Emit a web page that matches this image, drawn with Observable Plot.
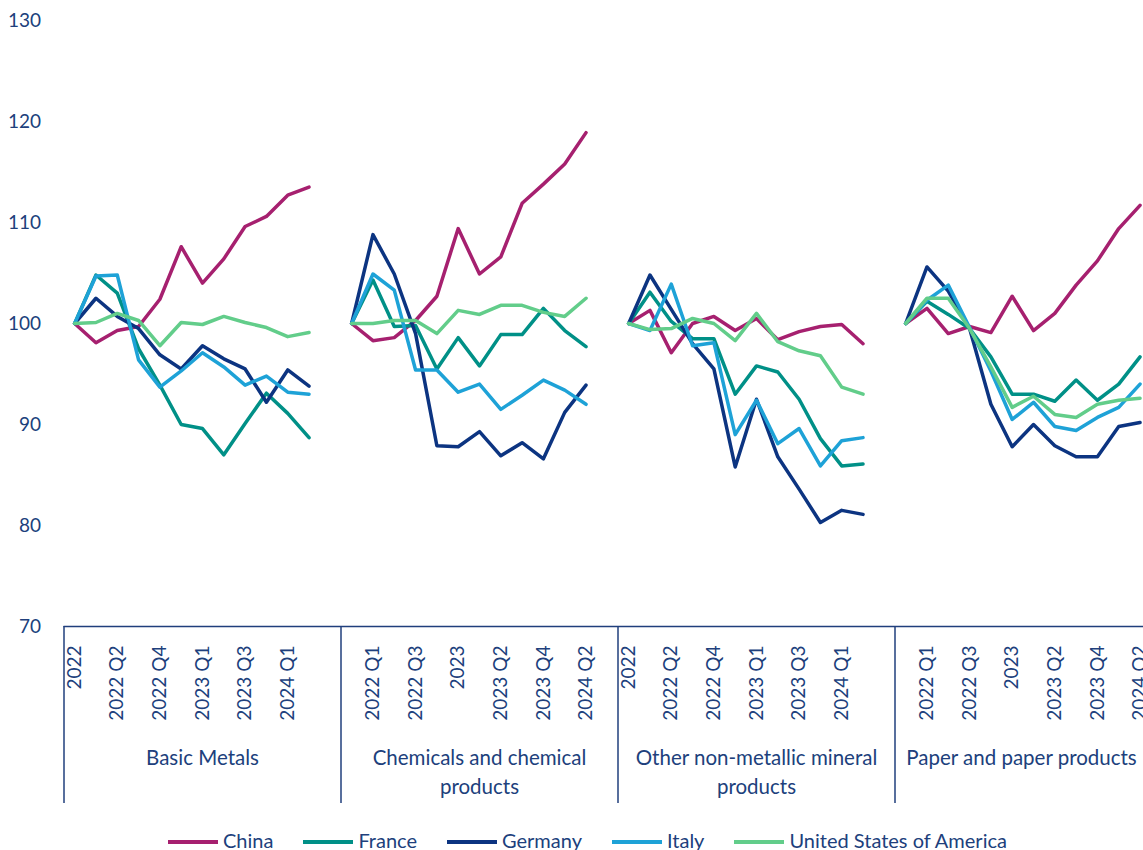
<!DOCTYPE html>
<html>
<head>
<meta charset="utf-8">
<script src="https://cdn.jsdelivr.net/npm/d3@7"></script>
<script src="https://cdn.jsdelivr.net/npm/@observablehq/plot@0.6"></script>
<style>
  html, body { margin: 0; padding: 0; background: #fff; overflow: hidden; }
  #chart svg { display: block; overflow: visible; max-width: none !important; width: 1180px !important; height: 825px !important; }
  #legend { display: flex; align-items: center; height: 30px; padding-left: 168px; gap: 30px;
            font: 20px Lato, sans-serif; color: #203F7C; white-space: nowrap; }
  #legend .sw { display: inline-block; width: 50px; height: 4px; vertical-align: middle; margin-right: 5px; position: relative; top: -1px; }
</style>
</head>
<body>
<div id="chart"></div>
<div id="legend"></div>
<script>
// ---- data ----
const quarters = ["2022","2022 Q1","2022 Q2","2022 Q3","2022 Q4","2023","2023 Q1","2023 Q2","2023 Q3","2023 Q4","2024 Q1","2024 Q2",""];
const groups = ["Basic Metals","Chemicals and chemical products","Other non-metallic mineral products","Paper and paper products"];
const countries = ["China","France","Germany","Italy","United States of America"];
const colors = ["#A6206F","#009087","#0C3481","#1EA2D7","#62CD8A"];
const yTicks = [70, 80, 90, 100, 110, 120, 130];

// values per group (Basic Metals, Chemicals, Other non-metallic, Paper), 2022 .. 2024 Q2
const china = [
  [100, 98.1, 99.3, 99.7, 102.4, 107.6, 104.0, 106.4, 109.6, 110.6, 112.7, 113.5],
  [100, 98.3, 98.6, 100.3, 102.7, 109.4, 104.9, 106.6, 111.9, 113.8, 115.8, 118.9],
  [100, 101.3, 97.1, 100.0, 100.7, 99.3, 100.5, 98.4, 99.2, 99.7, 99.9, 98.0],
  [100, 101.5, 99.0, 99.7, 99.1, 102.7, 99.3, 101.0, 103.8, 106.2, 109.4, 111.7]
];
const france = [
  [100, 104.8, 103.0, 97.5, 93.9, 90.0, 89.6, 87.0, 90.1, 93.1, 91.1, 88.7],
  [100, 104.3, 99.7, 99.8, 95.5, 98.6, 95.8, 98.9, 98.9, 101.5, 99.3, 97.7],
  [100, 103.1, 100.2, 98.5, 98.5, 93.0, 95.8, 95.2, 92.5, 88.6, 85.9, 86.1],
  [100, 102.2, 100.9, 99.5, 96.7, 93.0, 93.0, 92.3, 94.4, 92.4, 94.0, 96.7]
];
const germany = [
  [100, 102.5, 100.7, 99.5, 96.9, 95.5, 97.8, 96.5, 95.5, 92.2, 95.4, 93.8],
  [100, 108.8, 104.9, 99.0, 87.9, 87.8, 89.3, 86.9, 88.2, 86.6, 91.2, 93.9],
  [100, 104.8, 101.4, 98.0, 95.5, 85.8, 92.5, 86.8, 83.6, 80.3, 81.5, 81.1],
  [100, 105.6, 103.2, 99.5, 92.0, 87.8, 90.0, 87.9, 86.8, 86.8, 89.8, 90.2]
];
const italy = [
  [100, 104.7, 104.8, 96.4, 93.7, 95.3, 97.1, 95.7, 93.9, 94.8, 93.2, 93.0],
  [100, 104.9, 103.3, 95.4, 95.4, 93.2, 94.0, 91.5, 92.9, 94.4, 93.4, 92.0],
  [100, 99.3, 103.9, 97.8, 98.1, 89.0, 92.4, 88.1, 89.6, 85.9, 88.4, 88.7],
  [100, 102.3, 103.8, 99.6, 95.3, 90.5, 92.2, 89.8, 89.4, 90.7, 91.7, 94.0]
];
const usa = [
  [100, 100.1, 101.0, 100.3, 97.8, 100.1, 99.9, 100.7, 100.1, 99.6, 98.7, 99.1],
  [100, 100.0, 100.3, 100.3, 99.0, 101.3, 100.9, 101.8, 101.8, 101.1, 100.7, 102.5],
  [100, 99.4, 99.5, 100.5, 100.0, 98.3, 101.0, 98.2, 97.3, 96.8, 93.7, 93.0],
  [100, 102.5, 102.5, 99.5, 95.7, 91.7, 92.8, 91.0, 90.7, 92.0, 92.4, 92.6]
];
const series = [china, france, germany, italy, usa];

// ---- build table ----
const nq = quarters.length;               // categories per group (incl. blank)
const rows = [];
series.forEach((s, ci) => s.forEach((vals, g) => vals.forEach((v, q) => {
  rows.push({country: countries[ci], group: groups[g], idx: g * nq + q, value: v});
})));
const total = groups.length * nq;
const labelIdx = d3.range(0, total, 2).filter(i => quarters[i % nq] !== "");
const boundaries = d3.range(0, groups.length + 1).map(g => g * nq - 0.5);
const groupCenters = groups.map((_, g) => g * nq + (nq - 1) / 2);
const groupName = i => groups[Math.round((i - (nq - 1) / 2) / nq)];

const ink = "#203F7C";
const groupLabelOpts = {tickSize: 0, tickPadding: 118, tickFormat: groupName,
  lineWidth: 14, lineHeight: 1.42, fontSize: 20.5, fill: ink, label: null};
const chart = Plot.plot({
  width: 1180,
  height: 825,
  marginLeft: 63.5,
  marginRight: 8.5,
  marginTop: 20,
  marginBottom: 199,
  x: {domain: [-0.5, total - 0.5], axis: null},
  y: {domain: [70, 130], axis: null},
  color: {domain: countries, range: colors},
  style: {fontFamily: "Lato, sans-serif", fontSize: "19px", color: ink, background: "#fff"},
  marks: [
    Plot.axisY({ticks: yTicks, tickSize: 0, tickPadding: 23, fontSize: 19, fill: ink, label: null}),
    Plot.ruleY([70], {stroke: ink, strokeWidth: 1.5}),
    Plot.axisX({ticks: boundaries, tickSize: 177, tickFormat: () => "", stroke: ink, strokeWidth: 1.5, label: null}),
    Plot.axisX({ticks: labelIdx, tickSize: 0, tickRotate: -90, tickPadding: 19,
                tickFormat: i => quarters[i % nq], fontSize: 19, fill: ink, label: null}),
    Plot.axisX({ticks: groupCenters.slice(0, -1), ...groupLabelOpts}),
    Plot.axisX({ticks: groupCenters.slice(-1), dx: -12, ...groupLabelOpts}),
    Plot.line(rows, {x: "idx", y: "value", z: d => d.country + "|" + d.group,
                     stroke: "country", strokeWidth: 3.5, strokeLinejoin: "round", curve: "linear"})
  ]
});
document.getElementById("chart").appendChild(chart);

// ---- legend ----
const legend = d3.select("#legend");
countries.forEach((c, i) => {
  const item = legend.append("span");
  item.append("span").attr("class", "sw").style("background", colors[i]);
  item.append("span").text(c);
});
</script>
</body>
</html>
